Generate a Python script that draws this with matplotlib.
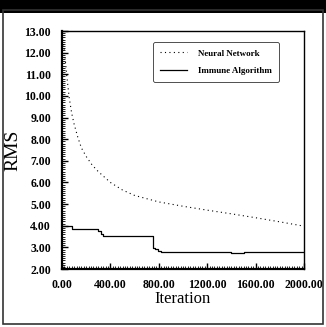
import matplotlib
matplotlib.use("Agg")
import matplotlib.pyplot as plt
from matplotlib.patches import Rectangle
from matplotlib.ticker import MultipleLocator, FormatStrFormatter

nn_iter = [0, 20, 40, 60, 80, 100, 130, 160, 200, 250, 300, 400, 500, 600, 800, 1000, 1200, 1400, 1600, 1800, 2000]
nn_rms = [12.8, 12.1, 10.9, 9.9, 9.2, 8.7, 8.1, 7.6, 7.2, 6.8, 6.5, 6.0, 5.65, 5.4, 5.1, 4.9, 4.72, 4.55, 4.37, 4.18, 3.98]

ia_iter = [0, 85, 300, 320, 340, 750, 765, 790, 820, 1000, 1400, 1500, 2000]
ia_rms = [3.97, 3.85, 3.75, 3.6, 3.52, 2.98, 2.92, 2.85, 2.8, 2.78, 2.75, 2.78, 2.78]

labels = ["Neural Network", "Immune Algorithm"]

plt.rcParams['font.family'] = ['Liberation Serif', 'DejaVu Serif']
plt.rcParams['font.weight'] = 'bold'

fig = plt.figure(figsize=(3.26, 3.27), dpi=100)
fig.patches.append(Rectangle((0.0, 1 - 13/327), 1, 13/327, transform=fig.transFigure,
                             facecolor='black', edgecolor='none', zorder=5))
fig.patches.append(Rectangle((0.008, 0.008), 0.984, 0.96, transform=fig.transFigure,
                             facecolor='none', edgecolor='#333333', lw=1.2, zorder=5))

ax = fig.add_axes([62/326, 1 - 269/327, (304-62)/326, (269-31)/327])
ax.plot(nn_iter, nn_rms, linestyle=(0, (1, 3)), color='black', lw=0.8, label=labels[0])
ax.plot(ia_iter, ia_rms, linestyle='-', color='black', lw=0.9, drawstyle='steps-post', label=labels[1])

ax.set_xlim(0, 2000)
ax.set_ylim(2, 13)
ax.xaxis.set_major_locator(MultipleLocator(400))
ax.xaxis.set_minor_locator(MultipleLocator(20))
ax.yaxis.set_major_locator(MultipleLocator(1))
ax.yaxis.set_minor_locator(MultipleLocator(0.1))
ax.xaxis.set_major_formatter(FormatStrFormatter('%.2f'))
ax.yaxis.set_major_formatter(FormatStrFormatter('%.2f'))
ax.tick_params(which='major', direction='in', length=4, width=1, labelsize=8.5)
ax.tick_params(axis='x', which='major', pad=7)
ax.tick_params(axis='y', which='major', pad=8)
ax.tick_params(which='minor', direction='in', length=2, width=0.6)
ax.tick_params(axis='x', which='both', top=False)
ax.tick_params(axis='y', which='both', right=False)
for lab in ax.get_xticklabels() + ax.get_yticklabels():
    lab.set_fontweight('bold')
for s in ax.spines.values():
    s.set_linewidth(1.0)
ax.spines['left'].set_linewidth(1.6)
ax.spines['bottom'].set_linewidth(1.6)

ax.set_xlabel("Iteration", fontsize=12, fontweight='normal', labelpad=0)
ax.set_ylabel("RMS", fontsize=14, fontweight='normal', labelpad=2)

leg = ax.legend(loc='upper left', bbox_to_anchor=((153-62)/242, 1 - (42-31)/238), fontsize=6.5, frameon=True,
                fancybox=True, edgecolor='black', handlelength=3.0, borderpad=0.8,
                labelspacing=1.0, handletextpad=1.2, borderaxespad=0)
leg.get_frame().set_linewidth(0.6)
for t in leg.get_texts():
    t.set_fontweight('bold')

fig.savefig("out.png", dpi=100)
